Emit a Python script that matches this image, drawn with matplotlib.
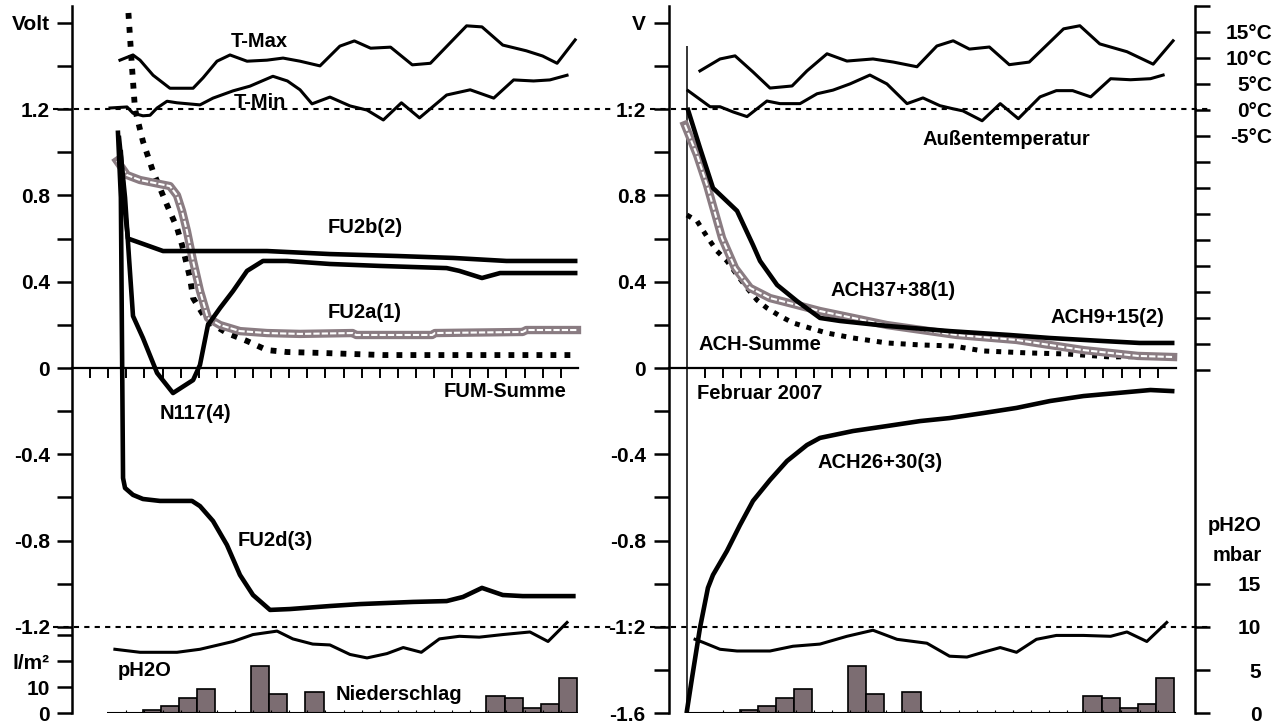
import matplotlib
matplotlib.use("Agg")
import matplotlib.pyplot as plt

plt.rcParams['font.family'] = ['Liberation Sans', 'DejaVu Sans']
plt.rcParams['font.weight'] = 'bold'

# ---------------- data (x = day in February 2007) ----------------
# precipitation l/m2 (same for both panels)
rain_day = [4.4, 5.4, 6.4, 7.4, 10.4, 11.4, 13.4, 23.4, 24.4, 25.4, 26.4, 27.4]
rain = [1.4, 2.7, 6.0, 9.4, 18.1, 7.3, 8.0, 6.8, 6.0, 2.0, 3.5, 13.5]

# left panel: temperatures (deg C)
tmax_l_day = [2.65, 3.37, 3.76, 4.48, 5.41, 6.69, 7.24, 8.01, 8.73, 9.67, 10.77, 11.66, 12.6, 13.7,
              14.8, 15.6, 16.5, 17.6, 18.8, 19.8, 21.8, 22.65, 23.8, 25.1, 26.0, 26.8, 27.8]
tmax_l = [9.4, 10.4, 9.4, 6.5, 4.0, 4.0, 6.0, 9.2, 10.4, 9.2, 9.4, 9.8, 9.2, 8.3,
          12.1, 13.1, 11.7, 11.9, 8.5, 8.8, 16.0, 15.8, 12.3, 11.2, 10.2, 8.8, 13.3]
tmin_l_day = [2.1, 3.04, 3.37, 3.92, 4.31, 4.70, 5.25, 5.8, 7.07, 7.79, 8.9, 9.83, 11.1, 11.9, 12.6,
              13.26, 14.25, 15.36, 16.3, 17.2, 18.2, 19.2, 20.7, 22.0, 23.3, 24.4, 25.5, 26.4, 27.35]
tmin_l = [0.2, 0.4, -0.8, -1.3, -1.2, 0.2, 1.5, 1.2, 0.8, 2.1, 3.5, 4.4, 6.3, 5.4, 3.7,
          1.0, 2.3, 0.6, -0.2, -2.1, 1.2, -1.7, 2.7, 3.7, 2.1, 5.6, 5.4, 5.6, 6.5]
# left panel: water vapour pressure (mbar)
ph_l_day = [2.37, 3.76, 5.8, 7.07, 8.9, 10.0, 11.33, 12.2, 13.3, 14.25, 15.36, 16.3, 17.4, 18.3,
            19.3, 20.3, 21.4, 22.5, 23.8, 25.3, 26.3, 27.35]
ph_l = [7.4, 7.05, 7.05, 7.4, 8.3, 9.1, 9.5, 8.6, 8.0, 7.9, 6.8, 6.4, 6.9, 7.6,
        7.05, 8.6, 8.9, 8.8, 9.1, 9.4, 8.3, 10.5]

# left panel: electrodes (Volt)
fum_day = [3.0, 3.09, 3.31, 3.48, 3.92, 4.48, 5.25, 5.8, 6.08, 6.52, 6.69, 7.46, 8.56, 9.67,
           10.77, 11.88, 13.7, 17.2, 21.8, 27.7]
fum = [1.9, 1.68, 1.40, 1.20, 1.05, 0.91, 0.755, 0.65, 0.57, 0.417, 0.324, 0.218, 0.162, 0.125,
       0.083, 0.074, 0.07, 0.06, 0.06, 0.06]
fu2a_day = [2.49, 3.04, 3.76, 5.41, 5.8, 6.08, 6.35, 6.69, 7.07, 7.51, 8.18, 9.28, 10.77, 12.6,
            15.5, 15.7, 19.9, 20.05, 24.9, 25.1, 27.9]
fu2a = [0.96, 0.894, 0.871, 0.843, 0.80, 0.727, 0.635, 0.496, 0.357, 0.232, 0.199, 0.171, 0.162, 0.158,
        0.162, 0.153, 0.153, 0.162, 0.167, 0.176, 0.176]
fu2b_day = [2.7, 2.9, 3.09, 3.76, 5.03, 10.77, 14.25, 17.96, 21.05, 24.0, 27.8]
fu2b = [1.0, 0.75, 0.60, 0.58, 0.542, 0.542, 0.528, 0.519, 0.51, 0.496, 0.496]
fu2d_day = [2.54, 2.7, 2.82, 2.93, 3.37, 3.92, 4.86, 6.63, 7.07, 7.79, 8.56, 9.28, 10.0, 10.94,
            12.04, 14.25, 15.9, 18.84, 20.7, 21.6, 22.65, 23.8, 24.9, 27.7]
fu2d = [1.09, 0.79, -0.51, -0.556, -0.588, -0.607, -0.616, -0.616, -0.64, -0.709, -0.82, -0.959, -1.052, -1.121,
        -1.117, -1.103, -1.094, -1.084, -1.08, -1.061, -1.019, -1.052, -1.057, -1.057]
n117_day = [2.6, 2.93, 3.15, 3.37, 3.92, 4.7, 5.58, 6.69, 7.07, 7.51, 8.18, 8.9, 9.67, 10.55,
            11.88, 14.25, 17.0, 18.84, 20.7, 21.4, 22.65, 23.65, 27.8]
n117 = [1.066, 0.79, 0.51, 0.241, 0.139, -0.023, -0.116, -0.056, 0.014, 0.199, 0.278, 0.357, 0.45, 0.496,
        0.496, 0.482, 0.473, 0.468, 0.463, 0.45, 0.417, 0.44, 0.44]

# right panel: temperatures (deg C)
tmax_r_day = [1.71, 2.82, 3.65, 4.64, 5.58, 6.8, 7.62, 8.73, 9.83, 11.27, 12.4, 13.7, 14.8, 15.7,
              16.6, 17.7, 18.8, 19.9, 21.8, 22.7, 23.8, 25.3, 26.75, 27.85]
tmax_r = [7.5, 9.8, 10.4, 7.3, 4.2, 4.6, 7.5, 10.8, 9.4, 9.8, 9.2, 8.3, 12.3, 13.3,
          11.7, 12.1, 8.7, 9.2, 15.6, 16.2, 12.7, 11.2, 8.8, 13.3]
tmin_r_day = [1.05, 2.27, 2.82, 3.54, 4.31, 4.86, 5.41, 6.13, 7.24, 8.18, 9.06, 10.0, 11.1, 12.04, 13.15,
              14.03, 14.97, 15.7, 16.24, 17.3, 18.3, 19.3, 20.5, 21.4, 22.3, 23.3, 24.4, 25.5, 26.6, 27.3]
tmin_r = [3.7, 0.6, 0.6, -0.4, -1.3, 0.2, 1.7, 1.2, 1.2, 3.1, 3.8, 5.0, 6.7, 5.0, 1.2,
          2.3, 0.8, 0.2, -0.2, -2.1, 1.2, -1.7, 2.5, 3.7, 3.7, 2.5, 6.0, 5.8, 6.0, 6.7]
# right panel: water vapour pressure (mbar)
ph_r_day = [1.44, 1.88, 2.82, 3.76, 5.58, 6.85, 8.34, 9.83, 11.27, 12.6, 14.25, 15.5, 16.46, 17.35,
            18.3, 19.2, 20.3, 21.4, 22.9, 24.4, 25.3, 26.4, 27.5]
ph_r = [8.55, 8.2, 7.4, 7.2, 7.2, 7.75, 8.0, 8.9, 9.6, 8.55, 8.1, 6.6, 6.5, 7.05,
        7.6, 7.05, 8.55, 9.0, 9.0, 8.9, 9.4, 8.3, 10.5]

# right panel: electrodes (Volt)
ach915_day = [1.05, 1.71, 2.43, 3.76, 4.64, 5.03, 5.97, 7.07, 8.34, 9.45, 12.04, 15.5, 18.8,
              21.05, 23.98, 26.0, 27.8]
ach915 = [1.196, 1.02, 0.834, 0.728, 0.57, 0.496, 0.385, 0.31, 0.232, 0.218, 0.195, 0.171, 0.153,
          0.139, 0.125, 0.116, 0.116]
ach3738_day = [0.88, 1.55, 2.1, 2.54, 2.93, 3.65, 4.48, 5.58, 7.07, 8.34, 10.17, 12.04, 15.9,
               19.2, 22.9, 25.9, 27.85]
ach3738 = [1.126, 0.987, 0.848, 0.718, 0.602, 0.463, 0.371, 0.324, 0.292, 0.264, 0.232, 0.199, 0.153,
           0.13, 0.083, 0.056, 0.051]
achsum_day = [0.99, 1.55, 2.15, 2.65, 3.2, 3.76, 4.31, 4.86, 5.41, 6.13, 6.85, 7.79, 8.73, 10.17,
              12.04, 13.87, 15.7, 17.35, 19.8, 22.0, 24.4, 27.85]
achsum = [0.709, 0.681, 0.602, 0.542, 0.496, 0.431, 0.371, 0.315, 0.278, 0.241, 0.209, 0.185, 0.162, 0.139,
          0.116, 0.107, 0.102, 0.079, 0.07, 0.065, 0.051, 0.056]
ach2630_day = [0.99, 1.27, 1.71, 2.15, 2.43, 3.2, 3.92, 4.64, 5.58, 6.52, 7.62, 8.34, 10.17, 12.04,
               13.87, 15.5, 17.35, 19.2, 21.05, 22.9, 24.75, 26.6, 27.8]
ach2630 = [-1.589, -1.437, -1.205, -1.019, -0.959, -0.848, -0.728, -0.616, -0.519, -0.431, -0.357, -0.324,
           -0.292, -0.269, -0.246, -0.232, -0.209, -0.185, -0.153, -0.13, -0.116, -0.102, -0.107]

# ---------------- layout ----------------
W, H = 1288, 724
PXV = 215.8      # px per volt
PXD = 18.1       # px per day
Y0 = 368         # pixel row of 0 V
V_LO, V_HI = -1.6, (Y0 - 6) / PXV
T_PER_V = PXV / 5.2     # deg C per volt
R_PER_V = PXV / 2.6     # l/m2 per volt
P_PER_V = PXV / 8.65    # mbar per volt

GRAY = '#8a7c82'
BAR = '#7c6d72'
TFS = 15
LFS = 14.5

fig = plt.figure(figsize=(W / 100, H / 100), dpi=100)
ax_h = (Y0 + 1.6 * PXV - 6) / H
ax_b = 1 - (Y0 + 1.6 * PXV) / H
axL = fig.add_axes([72 / W, ax_b, 543 / W, ax_h])
axR = fig.add_axes([669 / W, ax_b, 526 / W, ax_h])
axL.set_xlim(0, 543 / PXD)
axR.set_xlim(0, 526 / PXD)


def twin(ax, lo, hi):
    t = ax.twinx()
    t.set_ylim(lo, hi)
    for s in t.spines.values():
        s.set_visible(False)
    t.set_yticks([])
    return t


def base(ax, yt, labels, xt, xend):
    ax.set_ylim(V_LO, V_HI)
    ax.spines['top'].set_visible(False)
    ax.spines['right'].set_visible(False)
    ax.spines['left'].set_linewidth(1.8)
    ax.spines['bottom'].set_position(('data', 0))
    ax.spines['bottom'].set_bounds(0, xend)
    ax.spines['bottom'].set_linewidth(1.6)
    ax.set_yticks(yt)
    ax.set_yticklabels(labels)
    ax.tick_params(axis='y', direction='out', length=10.8, width=1.8, pad=5, labelsize=TFS)
    ax.set_xticks(xt)
    ax.tick_params(axis='x', direction='out', length=7.2, width=1.4, labelbottom=False)
    ax.hlines([1.2, -1.2], -1.05, 29.9, colors='black', lw=1.5,
              linestyles=[(0, (2.5, 2.5))], clip_on=False)


def dbl(ax, x, y):
    ax.plot(x, y, color=GRAY, lw=6, solid_joinstyle='round')
    ax.plot(x, y, color='white', lw=1.5, dashes=(3, 1))


def dotted(ax, x, y, lw):
    ax.plot(x, y, color='black', lw=lw, linestyle=(0, (1, 1.4)), dash_capstyle='butt')


# ---------------- left panel ----------------
yt = [1.6, 1.4, 1.2, 1.0, 0.8, 0.6, 0.4, 0.2, 0, -0.2, -0.4, -0.6, -0.8, -1.0, -1.2]
lab = ['Volt', '', '1.2', '', '0.8', '', '0.4', '', '0', '', '-0.4', '', '-0.8', '', '-1.2']
base(axL, yt, lab, list(range(1, 28)), 27.96)

tL = twin(axL, (V_LO - 1.2) * T_PER_V, (V_HI - 1.2) * T_PER_V)
rL = twin(axL, 0, (V_HI - V_LO) * R_PER_V)
pL = twin(axL, 0, (V_HI - V_LO) * P_PER_V)

rL.yaxis.tick_left()
rL.set_yticks([0, 10, 20, 30])
rL.set_yticklabels(['0', '10', 'l/m²', ''])
rL.tick_params(axis='y', direction='out', length=10.8, width=1.8, pad=5, labelsize=TFS)
rL.bar(rain_day, rain, width=1.0, color=BAR, edgecolor='black', lw=1.2)
rL.hlines(0, 1.93, 27.96, colors='black', lw=1.5)
rL.vlines(range(3, 28), 0, 1.3, colors='black', lw=0.8)

tL.plot(tmax_l_day, tmax_l, color='black', lw=2.2)
tL.plot(tmin_l_day, tmin_l, color='black', lw=2.2)
pL.plot(ph_l_day, ph_l, color='black', lw=2.2)

dotted(axL, fum_day, fum, 4.2)
dbl(axL, fu2a_day, fu2a)
axL.plot(fu2b_day, fu2b, color='black', lw=3.3)
axL.plot(n117_day, n117, color='black', lw=3.3)
axL.plot(fu2d_day, fu2d, color='black', lw=3.3)

for s, x, y in [('T-Max', 10.33, 1.515), ('T-Min', 10.39, 1.228), ('FU2b(2)', 16.19, 0.649),
                ('FU2a(1)', 16.19, 0.255), ('FUM-Summe', 23.92, -0.107), ('N117(4)', 6.8, -0.209),
                ('FU2d(3)', 11.22, -0.80), ('pH2O', 4.03, -1.40), ('Niederschlag', 18.07, -1.515)]:
    axL.text(x, y, s, ha='center', va='center', fontsize=LFS, fontweight='bold')

# ---------------- right panel ----------------
yt = [1.6, 1.4, 1.2, 1.0, 0.8, 0.6, 0.4, 0.2, 0, -0.2, -0.4, -0.6, -0.8, -1.0, -1.2, -1.4, -1.6]
lab = ['V', '', '1:2', '', '0.8', '', '0.4', '', '0', '', '-0.4', '', '-0.8', '', '-1:2', '', '-1.6']
base(axR, yt, lab, list(range(2, 28)), 28.0)
axR.tick_params(axis='y', pad=6)

tR = twin(axR, (V_LO - 1.2) * T_PER_V, (V_HI - 1.2) * T_PER_V)
rR = twin(axR, 0, (V_HI - V_LO) * R_PER_V)
pR = twin(axR, 0, (V_HI - V_LO) * P_PER_V)

tR.spines['right'].set_visible(True)
tR.spines['right'].set_linewidth(1.8)
t_ticks = list(range(20, -55, -5))
tR.set_yticks(t_ticks)
tR.set_yticklabels([f'{t}°C' if -5 <= t <= 15 else '' for t in t_ticks])
tR.tick_params(axis='y', direction='out', length=10.8, width=1.8, pad=45, labelsize=TFS)
for t in tR.get_yticklabels():
    t.set_horizontalalignment('right')

pR.set_yticks([0, 5, 10, 15])
pR.set_yticklabels(['0', '5', '10', '15'])
pR.tick_params(axis='y', direction='out', length=10.8, width=1.8, pad=37, labelsize=TFS)
for t in pR.get_yticklabels():
    t.set_horizontalalignment('right')

rR.bar(rain_day, rain, width=1.0, color=BAR, edgecolor='black', lw=1.2)
rR.hlines(0, 1.0, 28.0, colors='black', lw=1.5)
rR.vlines(range(3, 28), 0, 1.3, colors='black', lw=0.8)

tR.plot(tmax_r_day, tmax_r, color='black', lw=2.2)
tR.plot(tmin_r_day, tmin_r, color='black', lw=2.2)
pR.plot(ph_r_day, ph_r, color='black', lw=2.2)

axR.vlines(1.0, V_LO, 1.49, colors='black', lw=1.1)
dotted(axR, achsum_day, achsum, 3.6)
dbl(axR, ach3738_day, ach3738)
axR.plot(ach915_day, ach915, color='black', lw=3.3)
axR.plot(ach2630_day, ach2630, color='black', lw=3.3)

for s, x, y in [('Außentemperatur', 18.62, 1.057), ('ACH37+38(1)', 12.38, 0.357),
                ('ACH9+15(2)', 24.2, 0.232), ('ACH-Summe', 5.03, 0.107),
                ('Februar 2007', 5.03, -0.116), ('ACH26+30(3)', 11.66, -0.44)]:
    axR.text(x, y, s, ha='center', va='center', fontsize=LFS, fontweight='bold')
axR.text(32.76, -0.732, 'pH2O', ha='right', va='center', fontsize=LFS, fontweight='bold', clip_on=False)
axR.text(32.76, -0.867, 'mbar', ha='right', va='center', fontsize=LFS, fontweight='bold', clip_on=False)

fig.savefig('out.png', dpi=100)
